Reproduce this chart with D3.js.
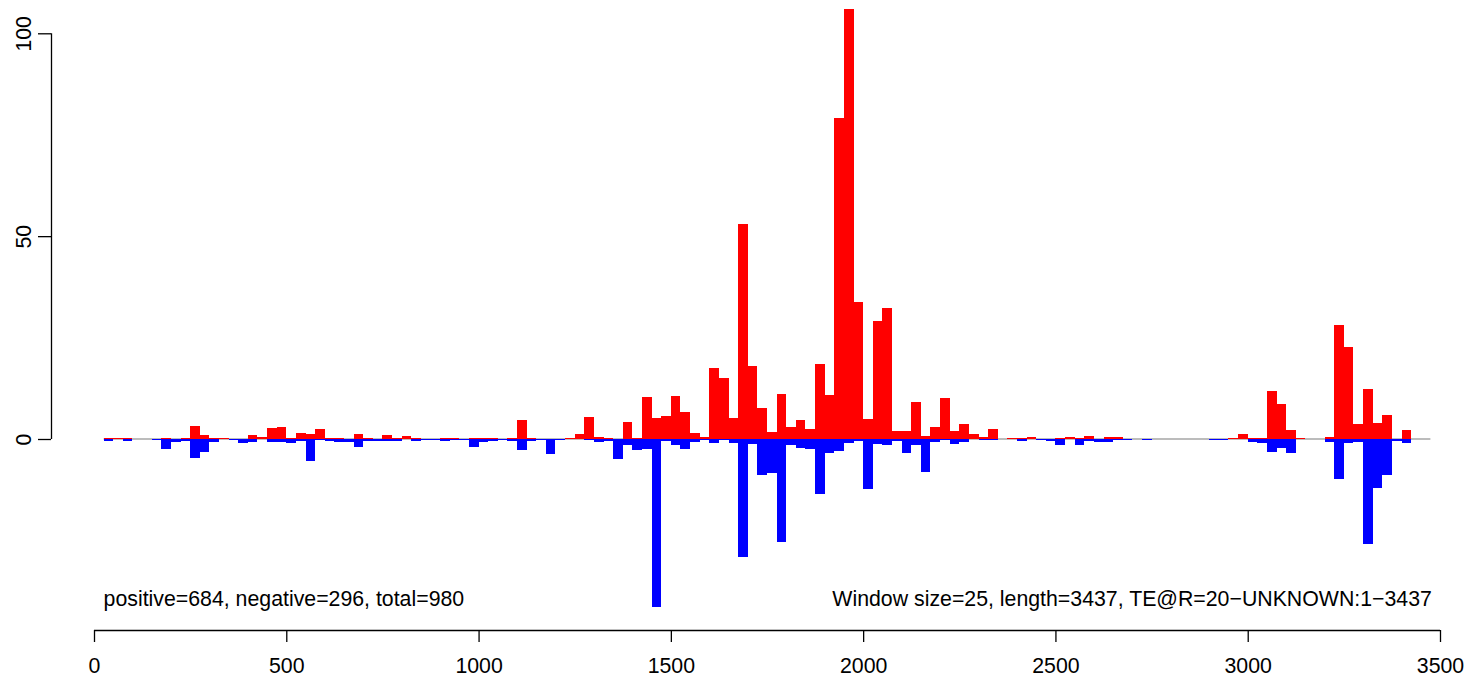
<!DOCTYPE html>
<html>
<head>
<meta charset="utf-8">
<script src="https://cdnjs.cloudflare.com/ajax/libs/d3/7.8.5/d3.min.js"></script>
<style>
  html, body { margin: 0; padding: 0; background: #fff; }
  svg { display: block; }
  text { font-family: "Liberation Sans", Arial, Helvetica, sans-serif; }
</style>
</head>
<body>
<svg id="chart" width="1467" height="678"></svg>
<script>
// Window size 25; bin k (1-based) spans [25k, 25k+25]
const windowSize = 25;
const seqLength = 3437;
const positive = [
  0.3,0.2,0.2,0,0,0,0.2,0,0.3,3.2,
  1,0.3,0.2,0,0,1,0.5,2.7,3,0.3,
  1.5,1.2,2.5,0.3,0.2,0,1.2,0.3,0,1,
  0.3,0.8,0.2,0,0,0.3,0.3,0,0.2,0.2,
  0.2,0,0.3,4.7,0.3,0,0,0,0.3,1.2,
  5.4,0.5,0.3,0,4.2,0.3,10.4,5.2,5.7,10.6,
  6.7,1.5,0.5,17.5,15,5.2,52.9,17.9,7.6,1.7,
  11.1,3,4.7,2.4,18.4,10.8,79,106,33.7,5,
  29,32.2,1.9,1.9,9.2,0.7,3,10.1,1.9,3.7,
  1.2,0.5,2.5,0,0.2,0.2,0.4,0,0,0.2,
  0.4,0.2,0.75,0,0.5,0.5,0,0,0,0,
  0,0,0,0,0,0,0,0.2,1.2,0.2,
  0.3,11.8,8.6,2.2,0.3,0,0,0.6,28.1,22.7,
  3.7,12.3,3.9,5.9,0,2.2,0,0
];
const negative = [
  0.5,0,0.5,0,0,0.2,2.5,0.75,0.4,4.7,
  3.2,0.75,0,0.2,1,0.75,0,0.75,0.75,1,
  0.4,5.4,0.25,0.4,0.75,0.75,2,0.5,0.5,0.4,
  0.4,0,0.5,0.2,0.2,0.5,0.2,0.2,2,0.75,
  0.4,0.2,0.4,2.7,0.4,0.2,3.7,0.2,0,0,
  0.2,0.75,0.6,4.9,1.5,2.7,2.5,41.4,0.5,1.5,
  2.5,0.75,0.25,1,0.25,1,29,1.3,8.8,8.3,
  25.3,1.5,2.2,2.5,13.5,3.5,2.9,1,0.5,12.4,
  1.3,1.5,0.4,3.4,1.5,8.1,0.7,0.3,1.2,0.7,
  0,0.3,0.3,0,0,0.4,0,0.2,0.4,1.4,
  0,1.4,0.5,0.75,0.75,0.2,0.2,0,0.2,0,
  0,0,0,0,0,0.2,0.2,0,0,0.7,
  0.9,3.1,2.1,3.4,0,0,0,0.7,9.8,0.9,
  0.7,25.8,12.2,8.8,0.4,0.9,0,0
];
const xTicks = [0,500,1000,1500,2000,2500,3000,3500];
const yTicks = [0,50,100];
const leftLabel = "positive=684, negative=296, total=980";
const rightLabel = "Window size=25, length=3437, TE@R=20\u2212UNKNOWN:1\u22123437";

const starts = positive.map((_, i) => (i + 1) * windowSize);
const firstStart = starts[0];
const lastEnd = starts[starts.length - 1] + windowSize;
const fs = 21.3;

const svg = d3.select("#chart");
const x = d3.scaleLinear().domain([0, 3500]).range([94, 1440]);
const y = d3.scaleLinear().domain([0, 100]).range([439, 33.3]);

// baseline
svg.append("line")
  .attr("x1", x(firstStart)).attr("x2", x(lastEnd))
  .attr("y1", y(0)).attr("y2", y(0))
  .attr("stroke", "#7a7a7a").attr("stroke-width", 1.2);

const g = svg.append("g").attr("shape-rendering", "crispEdges");
g.selectAll("rect.pos").data(positive).enter().append("rect")
  .attr("class", "pos")
  .attr("x", (d, i) => x(starts[i]))
  .attr("width", (d, i) => x(starts[i] + windowSize) - x(starts[i]))
  .attr("y", d => y(d))
  .attr("height", d => y(0) - y(d))
  .attr("fill", "#ff0000");
g.selectAll("rect.neg").data(negative).enter().append("rect")
  .attr("class", "neg")
  .attr("x", (d, i) => x(starts[i]))
  .attr("width", (d, i) => x(starts[i] + windowSize) - x(starts[i]))
  .attr("y", y(0))
  .attr("height", d => y(-d) - y(0))
  .attr("fill", "#0000ff");

// x axis
const xAxis = d3.axisBottom(x).tickValues(xTicks).tickSize(12).tickPadding(16).tickFormat(d3.format("d"));
const xg = svg.append("g").attr("transform", "translate(0,630)").call(xAxis);
xg.select(".domain").attr("d", `M${x(0)},0.5H${x(3500)}`).attr("stroke", "#000").attr("stroke-width", 1.3);
xg.selectAll(".tick line").attr("stroke", "#000").attr("stroke-width", 1.3);
xg.selectAll(".tick text").attr("font-size", fs).attr("fill", "#000")
  .attr("font-family", "'Liberation Sans', Arial, sans-serif");

// y axis
const yAxis = d3.axisLeft(y).tickValues(yTicks).tickSize(13).tickFormat(d3.format("d"));
const yg = svg.append("g").attr("transform", "translate(51,0)").call(yAxis);
yg.select(".domain").attr("d", `M0.5,${y(0)}V${y(100)}`).attr("stroke", "#000").attr("stroke-width", 1.3);
yg.selectAll(".tick line").attr("stroke", "#000").attr("stroke-width", 1.3);
yg.selectAll(".tick text").remove();
yg.selectAll(".tick").append("text")
  .attr("transform", "translate(-20,0) rotate(-90)")
  .attr("text-anchor", "middle")
  .attr("font-size", fs)
  .attr("fill", "#000")
  .attr("font-family", "'Liberation Sans', Arial, sans-serif")
  .text(d => d);

// annotations
svg.append("text").attr("x", x(firstStart)).attr("y", 606)
  .attr("font-size", fs).attr("fill", "#000").text(leftLabel);
svg.append("text").attr("x", x(lastEnd) + 1.5).attr("y", 606)
  .attr("text-anchor", "end")
  .attr("font-size", fs).attr("fill", "#000").text(rightLabel);
</script>
</body>
</html>
